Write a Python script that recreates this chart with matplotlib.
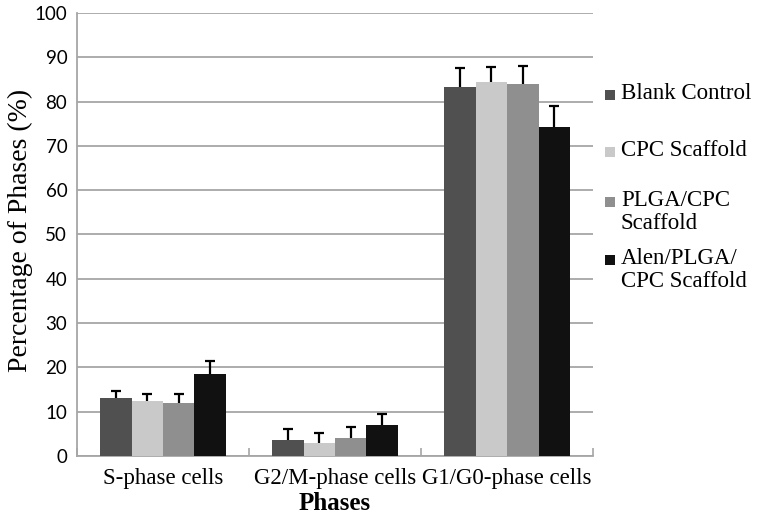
import matplotlib
matplotlib.use("Agg")
import matplotlib.pyplot as plt
import numpy as np
from matplotlib.patches import Rectangle

categories = ["S-phase cells", "G2/M-phase cells", "G1/G0-phase cells"]
series = ["Blank Control", "CPC Scaffold", "PLGA/CPC Scaffold", "Alen/PLGA/CPC Scaffold"]
legend_labels = ["Blank Control", "CPC Scaffold", "PLGA/CPC\nScaffold", "Alen/PLGA/\nCPC Scaffold"]
values = {
    "Blank Control": [13.0, 3.5, 83.3],
    "CPC Scaffold": [12.4, 2.9, 84.4],
    "PLGA/CPC Scaffold": [12.0, 4.1, 84.0],
    "Alen/PLGA/CPC Scaffold": [18.5, 6.9, 74.3],
}
errors = {
    "Blank Control": [1.7, 2.6, 4.3],
    "CPC Scaffold": [1.5, 2.2, 3.4],
    "PLGA/CPC Scaffold": [1.9, 2.5, 4.0],
    "Alen/PLGA/CPC Scaffold": [2.9, 2.6, 4.7],
}
colors = ["#505050", "#c9c9c9", "#8f8f8f", "#111111"]
yticks = list(range(0, 101, 10))

fig = plt.figure(figsize=(7.57, 5.24), dpi=100)
ax = fig.add_axes([0.1017, 0.1298, 0.6817, 0.8454])

x = np.arange(len(categories))
bw = 0.183
cap = 0.03
for i, s in enumerate(series):
    pos = x + (i - 1.5) * bw
    v = np.array(values[s])
    top = v + np.array(errors[s])
    ax.bar(pos, v, width=bw, color=colors[i], zorder=3)
    ax.vlines(pos, v, top, color="black", linewidth=1.6, zorder=4)
    ax.hlines(top, pos - cap, pos + cap, color="black", linewidth=1.6, zorder=4)

ax.set_xlim(-0.5, 2.5)
ax.set_ylim(0, 100)
ax.set_yticks(yticks)
ax.set_yticklabels([str(t) for t in yticks], fontfamily="Lato", fontsize=13.5)
ax.yaxis.grid(True, color="#a6a6a6", linewidth=1.3, zorder=0)
ax.set_axisbelow(True)
ax.tick_params(axis="y", length=0, pad=7)

# category ticks at boundaries pointing inward
ax.set_xticks([-0.5, 0.5, 1.5, 2.5], minor=True)
ax.set_xticks(x)
ax.set_xticklabels(categories, fontfamily="Liberation Serif", fontsize=16.5)
ax.tick_params(axis="x", which="major", length=0, pad=9)
ax.tick_params(axis="x", which="minor", direction="in", length=6, color="#a6a6a6", width=1.2)

for sp in ["top", "right"]:
    ax.spines[sp].set_visible(False)
ax.spines["left"].set_color("#a6a6a6")
ax.spines["left"].set_linewidth(1.3)
ax.spines["bottom"].set_color("#a6a6a6")
ax.spines["bottom"].set_linewidth(1.3)

ax.set_ylabel("Percentage of Phases (%)", fontfamily="Liberation Serif", fontsize=20)
ax.yaxis.set_label_coords(-0.085, 0.51)
ax.set_xlabel("Phases", fontfamily="Liberation Serif", fontsize=18, fontweight="bold", labelpad=2)

# legend (manual, marker aligned with first line like Excel)
W, H = 757, 524
leg_y = [95, 152, 202, 260]
for lab, c, yy in zip(legend_labels, colors, leg_y):
    fig.patches.append(Rectangle((605 / W, 1 - (yy + 5) / H), 10 / W, 10 / H,
                                 transform=fig.transFigure, facecolor=c, edgecolor="none"))
    fig.text(621 / W, 1 - (yy - 12) / H, lab, fontfamily="Liberation Serif", fontsize=16.5,
             va="top", ha="left", linespacing=1.13)

fig.savefig("out.png", dpi=100)
